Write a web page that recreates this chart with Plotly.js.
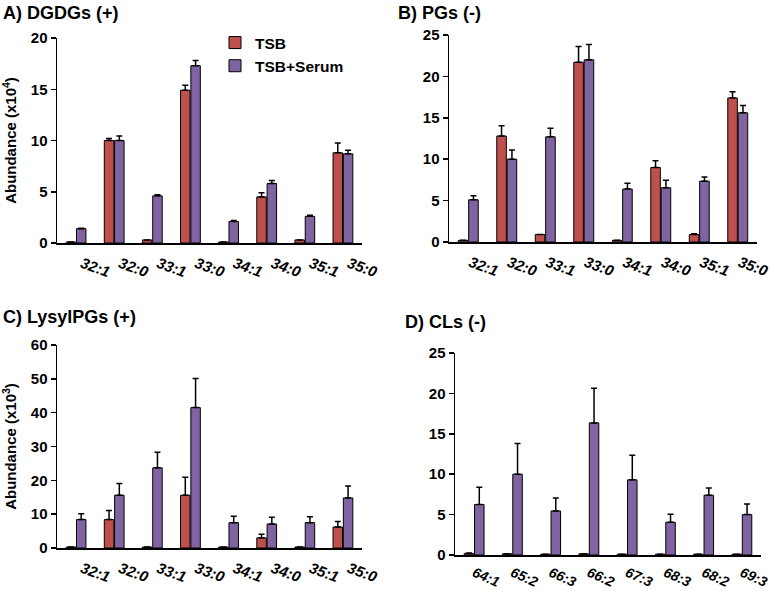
<!DOCTYPE html>
<html>
<head>
<meta charset="utf-8">
<script src="https://cdn.plot.ly/plotly-3.0.1.min.js"></script>
<style>html,body{margin:0;padding:0;background:#fff;}#chart{width:771px;height:591px;}</style>
</head>
<body>
<div id="chart"></div>
<script>
// ---- data ----
const catsPG = ["32:1","32:0","33:1","33:0","34:1","34:0","35:1","35:0"];
const catsCL = ["64:1","65:2","66:3","66:2","67:3","68:3","68:2","69:3"];

const dgdgTSB      = [0.1, 10.0, 0.3, 14.9, 0.1, 4.5, 0.3, 8.8];
const dgdgTSBErr   = [0, 0.2, 0, 0.5, 0, 0.4, 0, 0.95];
const dgdgSerum    = [1.4, 10.0, 4.6, 17.3, 2.1, 5.8, 2.6, 8.7];
const dgdgSerumErr = [0.05, 0.45, 0.1, 0.5, 0.1, 0.3, 0.1, 0.35];

const pgTSB      = [0.2, 12.8, 0.9, 21.7, 0.2, 9.0, 0.9, 17.4];
const pgTSBErr   = [0, 1.25, 0, 1.9, 0, 0.8, 0.1, 0.75];
const pgSerum    = [5.1, 10.0, 12.7, 22.0, 6.4, 6.55, 7.35, 15.6];
const pgSerumErr = [0.5, 1.1, 1.05, 1.85, 0.7, 0.9, 0.5, 0.9];

const lysTSB      = [0.3, 8.4, 0.3, 15.6, 0.3, 3.0, 0.3, 6.2];
const lysTSBErr   = [0, 2.7, 0, 5.3, 0, 1.1, 0, 1.6];
const lysSerum    = [8.4, 15.6, 23.7, 41.5, 7.5, 7.1, 7.5, 14.8];
const lysSerumErr = [1.7, 3.5, 4.6, 8.6, 1.9, 2.0, 1.7, 3.5];

const clTSB      = [0.2, 0.15, 0.1, 0.15, 0.1, 0.1, 0.1, 0.1];
const clTSBErr   = [0.05, 0, 0, 0, 0, 0, 0, 0];
const clSerum    = [6.25, 10.0, 5.45, 16.35, 9.3, 4.05, 7.4, 5.0];
const clSerumErr = [2.15, 3.8, 1.6, 4.3, 3.05, 1.0, 0.9, 1.3];

// ---- styling ----
const RED = "#c0504d", PURPLE = "#8064a2";
const FONT = "Liberation Sans, Arial, sans-serif";

function bar(name, cats, vals, errs, color, ax, show) {
  return {
    type: "bar", name: name, x: cats, y: vals,
    xaxis: "x" + ax, yaxis: "y" + ax,
    marker: {color: color, line: {color: "#000", width: 1}},
    error_y: {type: "data", array: errs, arrayminus: errs.map(() => 0), symmetric: false,
              color: "#000", thickness: 1.5, width: 3},
    showlegend: show
  };
}

const data = [
  bar("TSB", catsPG, dgdgTSB, dgdgTSBErr, RED, "", true),
  bar("TSB+Serum", catsPG, dgdgSerum, dgdgSerumErr, PURPLE, "", true),
  bar("TSB", catsPG, pgTSB, pgTSBErr, RED, "2", false),
  bar("TSB+Serum", catsPG, pgSerum, pgSerumErr, PURPLE, "2", false),
  bar("TSB", catsPG, lysTSB, lysTSBErr, RED, "3", false),
  bar("TSB+Serum", catsPG, lysSerum, lysSerumErr, PURPLE, "3", false),
  bar("TSB", catsCL, clTSB, clTSBErr, RED, "4", false),
  bar("TSB+Serum", catsCL, clSerum, clSerumErr, PURPLE, "4", false)
];

function xax(dom, anchor, angle, shift, standoff, size) {
  return {
    domain: dom, anchor: anchor, type: "category",
    showline: true, linecolor: "#000", linewidth: 1.5,
    showgrid: false, zeroline: false, ticks: "",
    tickangle: angle,
    tickfont: {family: FONT, size: size, color: "#000", weight: "bold", style: "italic"},
    ticklabelstandoff: standoff,
    ticklabelshift: shift
  };
}
function yax(dom, anchor, range, dtick, title) {
  const a = {
    domain: dom, anchor: anchor, range: range, dtick: dtick,
    showline: true, linecolor: "#000", linewidth: 1.5,
    showgrid: false, zeroline: false, ticks: "outside", ticklen: 5, tickcolor: "#000", tickwidth: 1.5,
    tickfont: {family: FONT, size: 15, color: "#000", weight: "bold"}
  };
  if (title) a.title = {text: title, font: {family: FONT, size: 15, color: "#000", weight: "bold"}, standoff: 12};
  return a;
}

const W = 771, H = 591;
const px = v => v / W, py = v => 1 - v / H;

const TITLEFONT = {family: FONT, size: 18, color: "#000", weight: "bold"};

const layout = {
  width: W, height: H,
  margin: {l: 0, r: 0, t: 0, b: 0},
  paper_bgcolor: "#fff", plot_bgcolor: "rgba(0,0,0,0)",
  barmode: "group", bargap: 0.46, bargroupgap: 0.08,
  font: {family: FONT, color: "#000"},
  xaxis:  xax([px(57), px(362)], "y", 20, 6, 5, 15),
  yaxis:  yax([py(243), py(38)], "x", [0, 20], 5, "Abundance (x10<sup>4</sup>)"),
  xaxis2: xax([px(449), px(757)], "y2", 20, 2, 5, 15),
  yaxis2: yax([py(242), py(35)], "x2", [0, 25], 5, ""),
  xaxis3: xax([px(57), px(362)], "y3", 20, 6, 5, 15),
  yaxis3: yax([py(548), py(345)], "x3", [0, 60], 10, "Abundance (x10<sup>3</sup>)"),
  xaxis4: xax([px(455), px(761)], "y4", 24, 0, 3, 14),
  yaxis4: yax([py(555), py(353)], "x4", [0, 25], 5, ""),
  legend: {
    x: px(215), y: py(26), xanchor: "left", yanchor: "top",
    bgcolor: "rgba(0,0,0,0)", itemwidth: 30,
    font: {family: FONT, size: 15.5, color: "#000", weight: "bold"},
    tracegroupgap: 0
  },
  annotations: [
    {text: "A) DGDGs (+)", x: px(1), y: py(1), xref: "paper", yref: "paper", xanchor: "left", yanchor: "top", showarrow: false, font: TITLEFONT},
    {text: "B) PGs (-)", x: px(396), y: py(1), xref: "paper", yref: "paper", xanchor: "left", yanchor: "top", showarrow: false, font: TITLEFONT},
    {text: "C) LysylPGs (+)", x: px(1), y: py(305), xref: "paper", yref: "paper", xanchor: "left", yanchor: "top", showarrow: false, font: TITLEFONT},
    {text: "D) CLs (-)", x: px(403), y: py(310), xref: "paper", yref: "paper", xanchor: "left", yanchor: "top", showarrow: false, font: TITLEFONT}
  ]
};

Plotly.newPlot("chart", data, layout, {displayModeBar: false, staticPlot: true});
</script>
</body>
</html>
